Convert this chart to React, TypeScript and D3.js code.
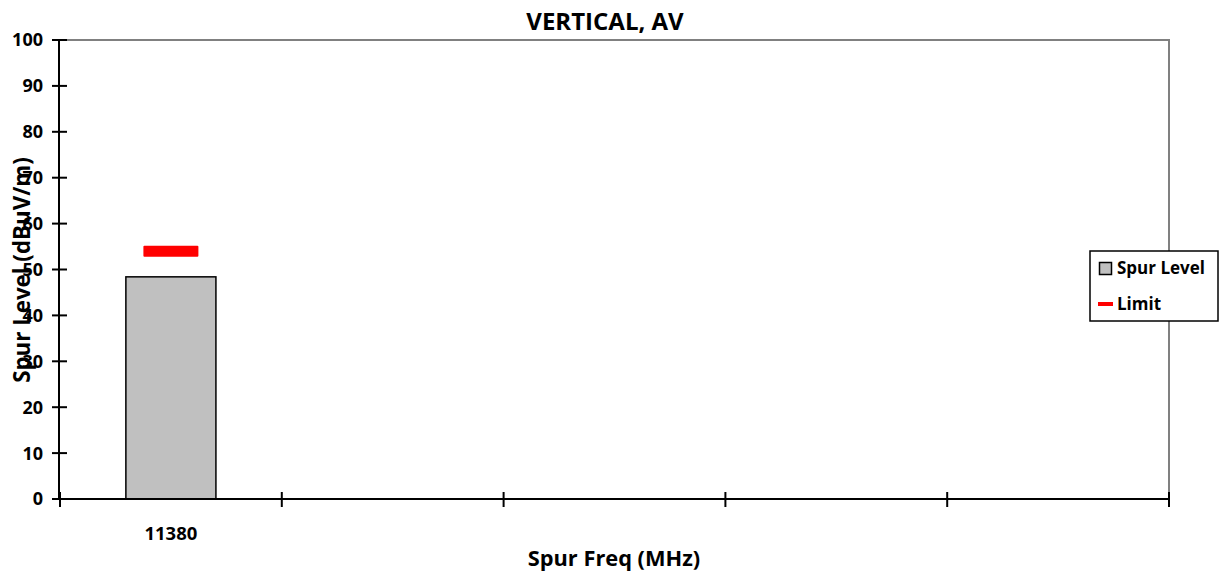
import { useEffect, useRef } from "react"
import * as d3 from "d3"

// chart data
const freqLabels = ["11380", "", "", "", ""]
const spurLevel = [48.4, null, null, null, null]
const limitLevel = [54, null, null, null, null]
const yTicks = [0, 10, 20, 30, 40, 50, 60, 70, 80, 90, 100]

const W = 1221
const H = 575
const FONT = "'Open Sans', 'Noto Sans', sans-serif"

export default function App() {
  const svgRef = useRef<SVGSVGElement>(null)

  useEffect(() => {
    if (!svgRef.current) return
    const svg = d3.select(svgRef.current)
    svg.selectAll("*").remove()

    const left = 60
    const right = 1169
    const top = 40
    const bottom = 499

    const x = d3
      .scaleBand<number>()
      .domain(freqLabels.map((_, i) => i))
      .range([left, right])
      .paddingInner(0.594)
      .paddingOuter(0.297)

    const y = d3.scaleLinear().domain([0, 100]).range([bottom, top])
    const step = x.step()

    // plot border (top + right, grey)
    svg
      .append("path")
      .attr("d", `M${left},${top}H${right}V${bottom}`)
      .attr("fill", "none")
      .attr("stroke", "#808080")
      .attr("stroke-width", 2)

    // bars
    svg
      .append("g")
      .selectAll("rect")
      .data(spurLevel.map((v, i) => ({ v, i })).filter((d) => d.v != null))
      .enter()
      .append("rect")
      .attr("x", (d) => x(d.i)!)
      .attr("y", (d) => y(d.v as number))
      .attr("width", x.bandwidth())
      .attr("height", (d) => bottom - y(d.v as number))
      .attr("fill", "#c0c0c0")
      .attr("stroke", "#000")
      .attr("stroke-width", 1.5)

    // limit markers
    svg
      .append("g")
      .selectAll("rect")
      .data(limitLevel.map((v, i) => ({ v, i })).filter((d) => d.v != null))
      .enter()
      .append("rect")
      .attr("x", (d) => x(d.i)! + x.bandwidth() / 2 - 27.5)
      .attr("y", (d) => y(d.v as number) - 5.5)
      .attr("width", 55)
      .attr("height", 11)
      .attr("rx", 1)
      .attr("fill", "#ff0000")

    // y axis
    const yAxis = svg.append("g")
    yAxis
      .append("line")
      .attr("x1", left - 1)
      .attr("x2", left - 1)
      .attr("y1", top)
      .attr("y2", bottom)
      .attr("stroke", "#000")
      .attr("stroke-width", 2)
    yTicks.forEach((t) => {
      yAxis
        .append("line")
        .attr("x1", left - 8)
        .attr("x2", left + 7)
        .attr("y1", y(t))
        .attr("y2", y(t))
        .attr("stroke", "#000")
        .attr("stroke-width", 2)
      yAxis
        .append("text")
        .attr("x", left - 17)
        .attr("y", y(t))
        .attr("dy", "0.36em")
        .attr("text-anchor", "end")
        .attr("font-family", FONT)
        .attr("font-weight", "bold")
        .attr("font-size", 18)
        .text(t)
    })

    // x axis
    const xAxis = svg.append("g")
    xAxis
      .append("line")
      .attr("x1", left - 1)
      .attr("x2", right)
      .attr("y1", bottom)
      .attr("y2", bottom)
      .attr("stroke", "#000")
      .attr("stroke-width", 2)
    d3.range(freqLabels.length + 1).forEach((k) => {
      const tx = left + k * step
      xAxis
        .append("line")
        .attr("x1", tx)
        .attr("x2", tx)
        .attr("y1", bottom - 7)
        .attr("y2", bottom + 8)
        .attr("stroke", "#000")
        .attr("stroke-width", 2)
    })
    freqLabels.forEach((lab, i) => {
      xAxis
        .append("text")
        .attr("x", x(i)! + x.bandwidth() / 2)
        .attr("y", 533)
        .attr("dy", "0.36em")
        .attr("text-anchor", "middle")
        .attr("font-family", FONT)
        .attr("font-weight", "bold")
        .attr("font-size", 18.5)
        .text(lab)
    })

    // titles
    svg
      .append("text")
      .attr("x", 605)
      .attr("y", 21)
      .attr("dy", "0.36em")
      .attr("text-anchor", "middle")
      .attr("font-family", FONT)
      .attr("font-weight", "bold")
      .attr("font-size", 24)
      .text("VERTICAL, AV")

    svg
      .append("text")
      .attr("x", 614)
      .attr("y", 558)
      .attr("dy", "0.36em")
      .attr("text-anchor", "middle")
      .attr("font-family", FONT)
      .attr("font-weight", "bold")
      .attr("font-size", 21.8)
      .text("Spur Freq (MHz)")

    svg
      .append("text")
      .attr("transform", `translate(22, 270) rotate(-90)`)
      .attr("dy", "0.36em")
      .attr("text-anchor", "middle")
      .attr("font-family", FONT)
      .attr("font-weight", "bold")
      .attr("font-size", 22.3)
      .text("Spur Level (dBuV/m)")

    // legend
    const lg = svg.append("g")
    lg.append("rect")
      .attr("x", 1090)
      .attr("y", 251)
      .attr("width", 128)
      .attr("height", 70)
      .attr("fill", "#fff")
      .attr("stroke", "#000")
      .attr("stroke-width", 1.5)
    lg.append("rect")
      .attr("x", 1099.5)
      .attr("y", 262.5)
      .attr("width", 12)
      .attr("height", 12)
      .attr("fill", "#c0c0c0")
      .attr("stroke", "#000")
      .attr("stroke-width", 1.5)
    lg.append("text")
      .attr("x", 1117)
      .attr("y", 268)
      .attr("dy", "0.36em")
      .attr("font-family", FONT)
      .attr("font-weight", "bold")
      .attr("font-size", 17)
      .text("Spur Level")
    lg.append("line")
      .attr("x1", 1098)
      .attr("x2", 1113)
      .attr("y1", 304)
      .attr("y2", 304)
      .attr("stroke", "#ff0000")
      .attr("stroke-width", 4)
    lg.append("text")
      .attr("x", 1117)
      .attr("y", 304)
      .attr("dy", "0.36em")
      .attr("font-family", FONT)
      .attr("font-weight", "bold")
      .attr("font-size", 17)
      .text("Limit")
  }, [])

  return (
    <svg
      ref={svgRef}
      width={W}
      height={H}
      style={{ position: "absolute", left: 0, top: 0, background: "#fff" }}
    ></svg>
  )
}
